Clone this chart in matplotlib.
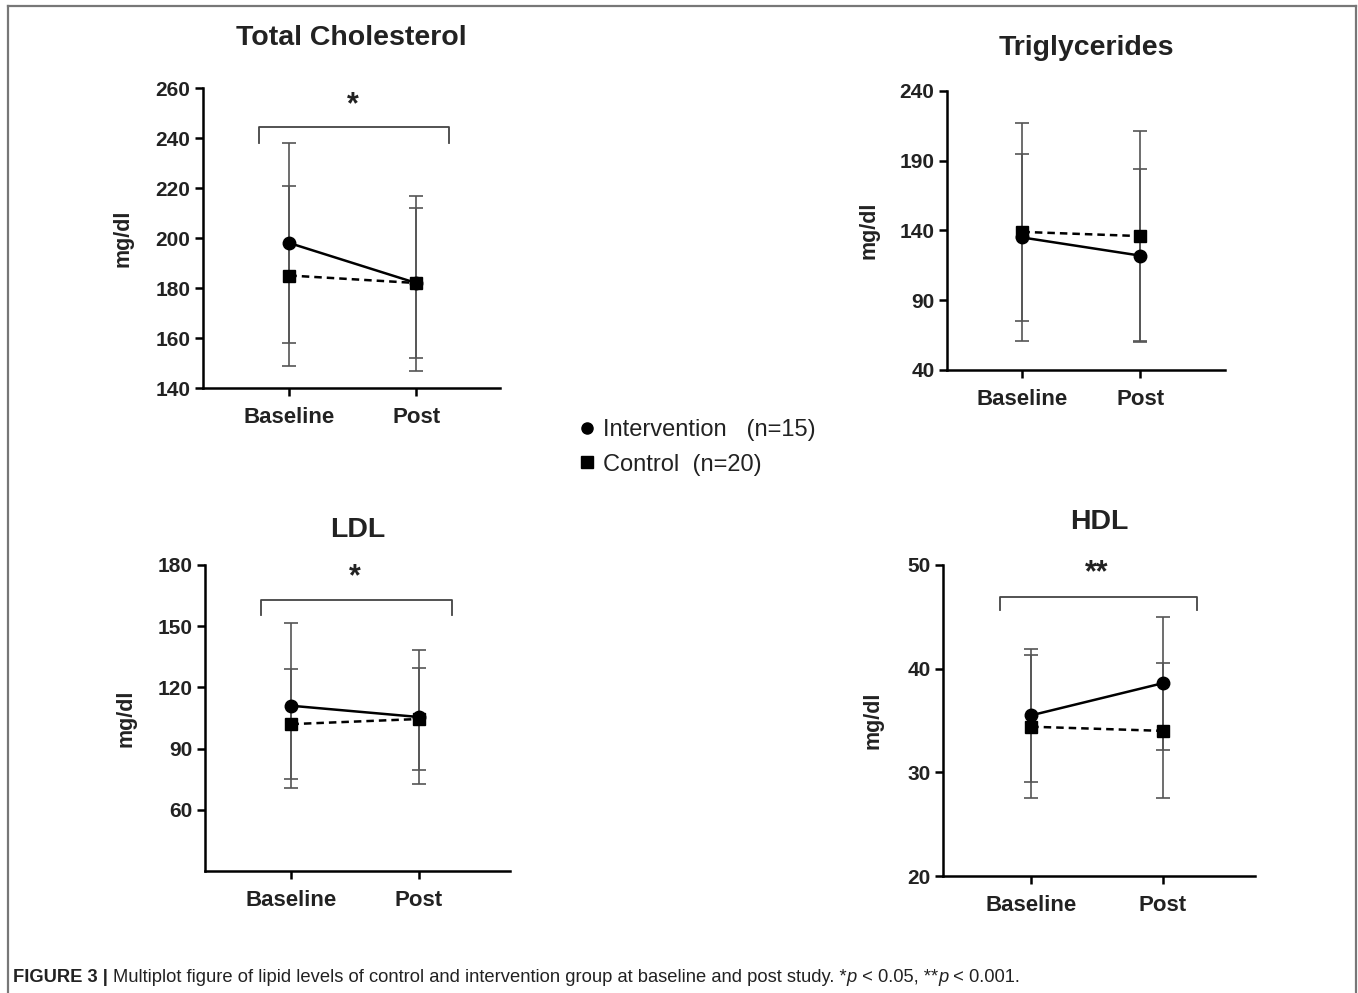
import matplotlib
matplotlib.use("Agg")
import matplotlib.pyplot as plt
from matplotlib.lines import Line2D

plt.rcParams["font.family"] = ["Liberation Sans", "DejaVu Sans"]

# ---- data (mean, SD) ----
timepoints = ["Baseline", "Post"]

tc_int_mean = [198, 182]
tc_int_sd = [40, 35]
tc_ctl_mean = [185, 182]
tc_ctl_sd = [36, 30]

tg_int_mean = [135, 122]
tg_int_sd = [60, 62]
tg_ctl_mean = [139, 136]
tg_ctl_sd = [78, 75]

ldl_int_mean = [111, 105.5]
ldl_int_sd = [40.5, 33]
ldl_ctl_mean = [102, 104.5]
ldl_ctl_sd = [27, 25]

hdl_int_mean = [35.5, 38.6]
hdl_int_sd = [6.4, 6.4]
hdl_ctl_mean = [34.4, 34.0]
hdl_ctl_sd = [6.9, 6.5]

W, H = 1358, 993


def px_rect(left, right, top, bottom):
    return [left / W, 1 - bottom / H, (right - left) / W, (bottom - top) / H]


def draw_panel(fig, rect, title, title_y, int_mean, int_sd, ctl_mean, ctl_sd,
               ylim, yticks, xlim, star=None, bracket=None, ylabel_x=-0.27):
    ax = fig.add_axes(rect)
    x = [0, 1]

    for mean, sd in ((ctl_mean, ctl_sd), (int_mean, int_sd)):
        ax.errorbar(x, mean, yerr=sd, fmt="none", ecolor="#555555",
                    elinewidth=1.2, capsize=5, capthick=1.2, zorder=2)

    ax.plot(x, ctl_mean, color="black", lw=1.8, ls=(0, (3, 2)), marker="s",
            markersize=8.5, zorder=3)
    ax.plot(x, int_mean, color="black", lw=1.8, marker="o", markersize=9,
            zorder=4)

    if star:
        b_low, b_high, star_y = bracket
        ax.plot([-0.24, -0.24, 1.26, 1.26], [b_low, b_high, b_high, b_low],
                color="#444444", lw=1.3, clip_on=False)
        ax.text(0.5, star_y, star, ha="center", va="center",
                fontsize=22, fontweight="bold", color="#222222")

    ax.set_xlim(*xlim)
    ax.set_ylim(*ylim)
    ax.set_yticks(yticks)
    ax.set_xticks(x)
    ax.set_xticklabels(timepoints)

    for side in ("top", "right"):
        ax.spines[side].set_visible(False)
    for side in ("left", "bottom"):
        ax.spines[side].set_linewidth(1.8)

    ax.tick_params(axis="both", length=6, width=1.8)
    ax.tick_params(axis="y", pad=3, labelsize=15)
    ax.tick_params(axis="x", pad=8, labelsize=16)
    for lab in ax.get_xticklabels() + ax.get_yticklabels():
        lab.set_fontweight("bold")
        lab.set_color("#222222")

    ax.set_ylabel("mg/dl", fontsize=15.5, fontweight="bold", color="#222222")
    ax.yaxis.set_label_coords(ylabel_x, 0.5)
    ax.text(0.5, title_y, title, transform=ax.transAxes, ha="center",
            va="center", fontsize=20.5, fontweight="bold", color="#222222")
    return ax


fig = plt.figure(figsize=(W / 100, H / 100), dpi=100)

draw_panel(fig, px_rect(203, 500, 88, 388), "Total Cholesterol", 1.167,
           tc_int_mean, tc_int_sd, tc_ctl_mean, tc_ctl_sd,
           ylim=(140, 260), yticks=range(140, 261, 20), xlim=(-0.68, 1.66),
           star="*", bracket=(238, 244.5, 253), ylabel_x=-0.233)

draw_panel(fig, px_rect(947, 1225, 91, 370), "Triglycerides", 1.155,
           tg_int_mean, tg_int_sd, tg_ctl_mean, tg_ctl_sd,
           ylim=(40, 240), yticks=range(40, 241, 50), xlim=(-0.64, 1.72),
           ylabel_x=-0.244)

draw_panel(fig, px_rect(205, 510, 565, 871), "LDL", 1.114,
           ldl_int_mean, ldl_int_sd, ldl_ctl_mean, ldl_ctl_sd,
           ylim=(30, 180), yticks=range(60, 181, 30), xlim=(-0.68, 1.72),
           star="*", bracket=(155.5, 163, 174), ylabel_x=-0.226)

draw_panel(fig, px_rect(943, 1255, 565, 876), "HDL", 1.138,
           hdl_int_mean, hdl_int_sd, hdl_ctl_mean, hdl_ctl_sd,
           ylim=(20, 50), yticks=range(20, 51, 10), xlim=(-0.67, 1.70),
           star="**", bracket=(45.7, 46.9, 49.2), ylabel_x=-0.19)

# legend in the middle
handles = [
    Line2D([], [], ls="none", marker="o", color="black", markersize=8),
    Line2D([], [], ls="none", marker="s", color="black", markersize=8),
]
fig.legend(handles, ["Intervention   (n=15)", "Control  (n=20)"],
           loc="upper left", bbox_to_anchor=(570 / W, 1 - 410 / H),
           borderaxespad=0, frameon=False, fontsize=17, handlelength=0.6,
           handletextpad=0.4, labelspacing=0.52, labelcolor="#222222")

# frame around figure
frame_kw = dict(color="#777777", lw=1.6, transform=fig.transFigure)
fig.add_artist(Line2D([7.5 / W, 7.5 / W], [0, 1 - 6 / H], **frame_kw))
fig.add_artist(Line2D([7.5 / W, 1356 / W], [1 - 6 / H, 1 - 6 / H], **frame_kw))
fig.add_artist(Line2D([1356 / W, 1356 / W], [0, 1 - 6 / H], **frame_kw))

# caption, written in pieces so the p's can be italic
pieces = [
    ("FIGURE 3 | ", "bold", "normal"),
    ("Multiplot figure of lipid levels of control and intervention group at "
     "baseline and post study. *", "normal", "normal"),
    ("p", "normal", "italic"),
    (" < 0.05, **", "normal", "normal"),
    ("p", "normal", "italic"),
    (" < 0.001.", "normal", "normal"),
]
renderer = fig.canvas.get_renderer()
cx = 13 / W
for text, weight, style in pieces:
    t = fig.text(cx, 1 - 977 / H, text, fontsize=13.2, fontweight=weight,
                 fontstyle=style, va="center", ha="left", color="#222222")
    bb = t.get_window_extent(renderer=renderer)
    cx = bb.x1 / W

fig.savefig("out.png", dpi=100)
